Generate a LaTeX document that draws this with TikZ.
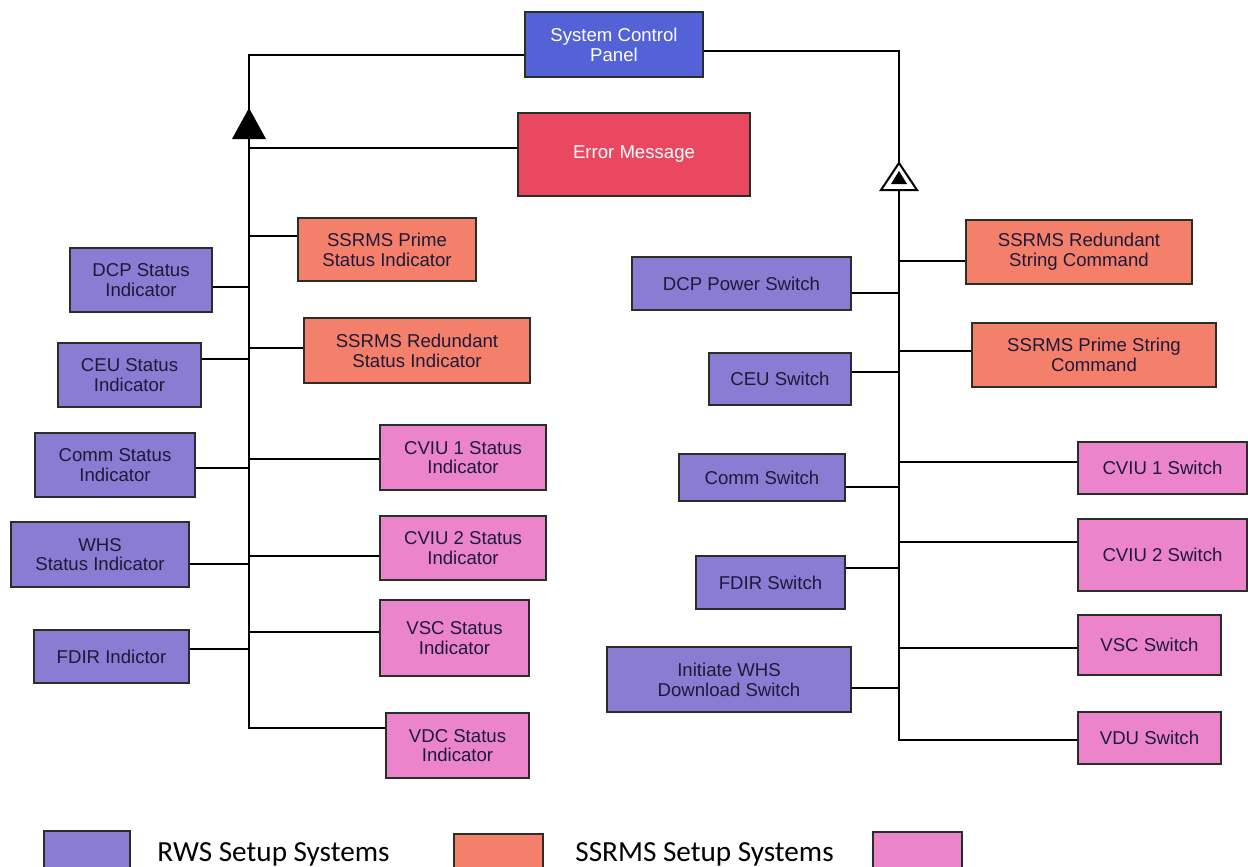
\documentclass[tikz,border=0pt]{standalone}
\usepackage{fontspec}
\setmainfont{Liberation Sans}
\newfontfamily\legendfont{Carlito}
\definecolor{rwsblue}{RGB}{138,124,210}
\definecolor{ssrmsred}{RGB}{244,128,108}
\definecolor{vidpink}{RGB}{236,132,204}
\definecolor{panelblue}{RGB}{84,98,216}
\definecolor{errred}{RGB}{234,72,96}
\definecolor{boxline}{RGB}{38,48,40}
\definecolor{boxtext}{RGB}{28,26,56}
\tikzset{
  blk/.style={rectangle,draw=boxline,line width=1pt,align=center,inner sep=1pt,
    text=boxtext,font=\fontsize{9.3}{9.9}\selectfont},
  rws/.style={blk,fill=rwsblue},
  ssrms/.style={blk,fill=ssrmsred},
  vid/.style={blk,fill=vidpink},
  panel/.style={blk,fill=panelblue,text=white},
  err/.style={blk,fill=errred,text=white},
  sz/.style 2 args={minimum width=#1pt,minimum height=#2pt},
  link/.style={line width=1pt,black},
  legbox/.style={draw=boxline,line width=0.8pt},
  legtext/.style={anchor=base west,inner sep=0pt,font=\legendfont\fontsize{14.6}{16}\selectfont}
}

\begin{document}
\begin{tikzpicture}[x=0.5pt,y=-0.5pt]
\useasboundingbox (0,0) rectangle (1248,867);
\clip (0,0) rectangle (1248,867);

% top of the tree
\node[panel,sz={89}{32.5}] (scp) at (614,44.5) {System Control\\Panel};
\node[err,sz={116}{41.5}] (err) at (634,154.5) {Error Message};

% status indicators, left trunk
\node[rws,sz={71}{32}] (dcpst) at (141,280) {DCP Status\\Indicator};
\node[rws,sz={71.5}{32}] (ceust) at (129.5,375) {CEU Status\\Indicator};
\node[rws,sz={80}{32}] (commst) at (115,465) {Comm Status\\Indicator};
\node[rws,sz={89}{32.5}] (whsst) at (100,554.5) {WHS\\Status Indicator};
\node[rws,sz={77.5}{26.5}] (fdirst) at (111.5,656.5) {FDIR Indictor};
\node[ssrms,sz={89}{31.5}] (primest) at (387,249.5) {SSRMS Prime\\Status Indicator};
\node[ssrms,sz={113}{32.5}] (redst) at (417,350.5) {SSRMS Redundant\\Status Indicator};
\node[vid,sz={83}{32.5}] (cviuast) at (463,457.5) {CVIU 1 Status\\Indicator};
\node[vid,sz={83}{32}] (cviubst) at (463,548) {CVIU 2 Status\\Indicator};
\node[vid,sz={74.5}{38}] (vscst) at (454.5,638) {VSC Status\\Indicator};
\node[vid,sz={71.5}{32.5}] (vdcst) at (457.5,745.5) {VDC Status\\Indicator};

% switches and commands, right trunk
\node[rws,sz={109.5}{26.5}] (dcpsw) at (741.5,283.5) {DCP Power Switch};
\node[rws,sz={71}{26}] (ceusw) at (780,379) {CEU Switch};
\node[rws,sz={83}{23.5}] (commsw) at (762,477.5) {Comm Switch};
\node[rws,sz={74.5}{26.5}] (fdirsw) at (770.5,582.5) {FDIR Switch};
\node[rws,sz={122}{32.5}] (whssw) at (729,679.5) {Initiate WHS\\Download Switch};
\node[ssrms,sz={113}{32}] (redcmd) at (1079,252) {SSRMS Redundant\\String Command};
\node[ssrms,sz={122}{32}] (primecmd) at (1094,355) {SSRMS Prime String\\Command};
\node[vid,sz={84.5}{26}] (cviuasw) at (1162.5,468) {CVIU 1 Switch};
\node[vid,sz={84.5}{36}] (cviubsw) at (1162.5,555) {CVIU 2 Switch};
\node[vid,sz={71.5}{30}] (vscsw) at (1149.5,645) {VSC Switch};
\node[vid,sz={71.5}{26}] (vdusw) at (1149.5,738) {VDU Switch};

% trunk corners
\coordinate (ltop) at (249,55);
\coordinate (lbot) at (249,728);
\coordinate (rtop) at (899,51);
\coordinate (rtip) at (899,163);
\coordinate (rbase) at (899,190);
\coordinate (rbot) at (899,740);

% left trunk, filled head
\draw[link] (scp.west |- ltop) -- (ltop) -- (lbot) -- (vdcst.west |- lbot);
\fill (249,108) -- (266,139) -- (232,139) -- cycle;
\draw[link] (ltop |- 0,148) -- (err.west |- 0,148);
\draw[link] (dcpst.east |- 0,287) -- (ltop |- 0,287);
\draw[link] (ceust.east |- 0,359) -- (ltop |- 0,359);
\draw[link] (commst.east |- 0,468) -- (ltop |- 0,468);
\draw[link] (whsst.east |- 0,564) -- (ltop |- 0,564);
\draw[link] (fdirst.east |- 0,649) -- (ltop |- 0,649);
\draw[link] (ltop |- 0,236) -- (primest.west |- 0,236);
\draw[link] (ltop |- 0,348) -- (redst.west |- 0,348);
\draw[link] (ltop |- 0,459) -- (cviuast.west |- 0,459);
\draw[link] (ltop |- 0,556) -- (cviubst.west |- 0,556);
\draw[link] (ltop |- 0,632) -- (vscst.west |- 0,632);

% right trunk, open head with small solid tip
\draw[link] (scp.east |- rtop) -- (rtop) -- (rtip);
\draw[link] (rbase) -- (rbot) -- (vdusw.west |- rbot);
\draw[link,fill=white] (rtip) -- (917,190) -- (881,190) -- cycle;
\fill (899,171) -- (907,184) -- (891,184) -- cycle;
\draw[link] (dcpsw.east |- 0,293) -- (rtop |- 0,293);
\draw[link] (ceusw.east |- 0,372) -- (rtop |- 0,372);
\draw[link] (commsw.east |- 0,487) -- (rtop |- 0,487);
\draw[link] (fdirsw.east |- 0,568) -- (rtop |- 0,568);
\draw[link] (whssw.east |- 0,688) -- (rtop |- 0,688);
\draw[link] (rtop |- 0,261) -- (redcmd.west |- 0,261);
\draw[link] (rtop |- 0,351) -- (primecmd.west |- 0,351);
\draw[link] (rtop |- 0,462) -- (cviuasw.west |- 0,462);
\draw[link] (rtop |- 0,542) -- (cviubsw.west |- 0,542);
\draw[link] (rtop |- 0,648) -- (vscsw.west |- 0,648);

% legend
\draw[legbox,fill=rwsblue] (44,831) rectangle (130,872);
\node[legtext] (legrws) at (157,861) {RWS Setup Systems};
\draw[legbox,fill=ssrmsred] (454,834) rectangle (543,872);
\node[legtext] (legssrms) at (575,861) {SSRMS Setup Systems};
\draw[legbox,fill=vidpink] (873,832) rectangle (962,872);
\end{tikzpicture}
\end{document}
